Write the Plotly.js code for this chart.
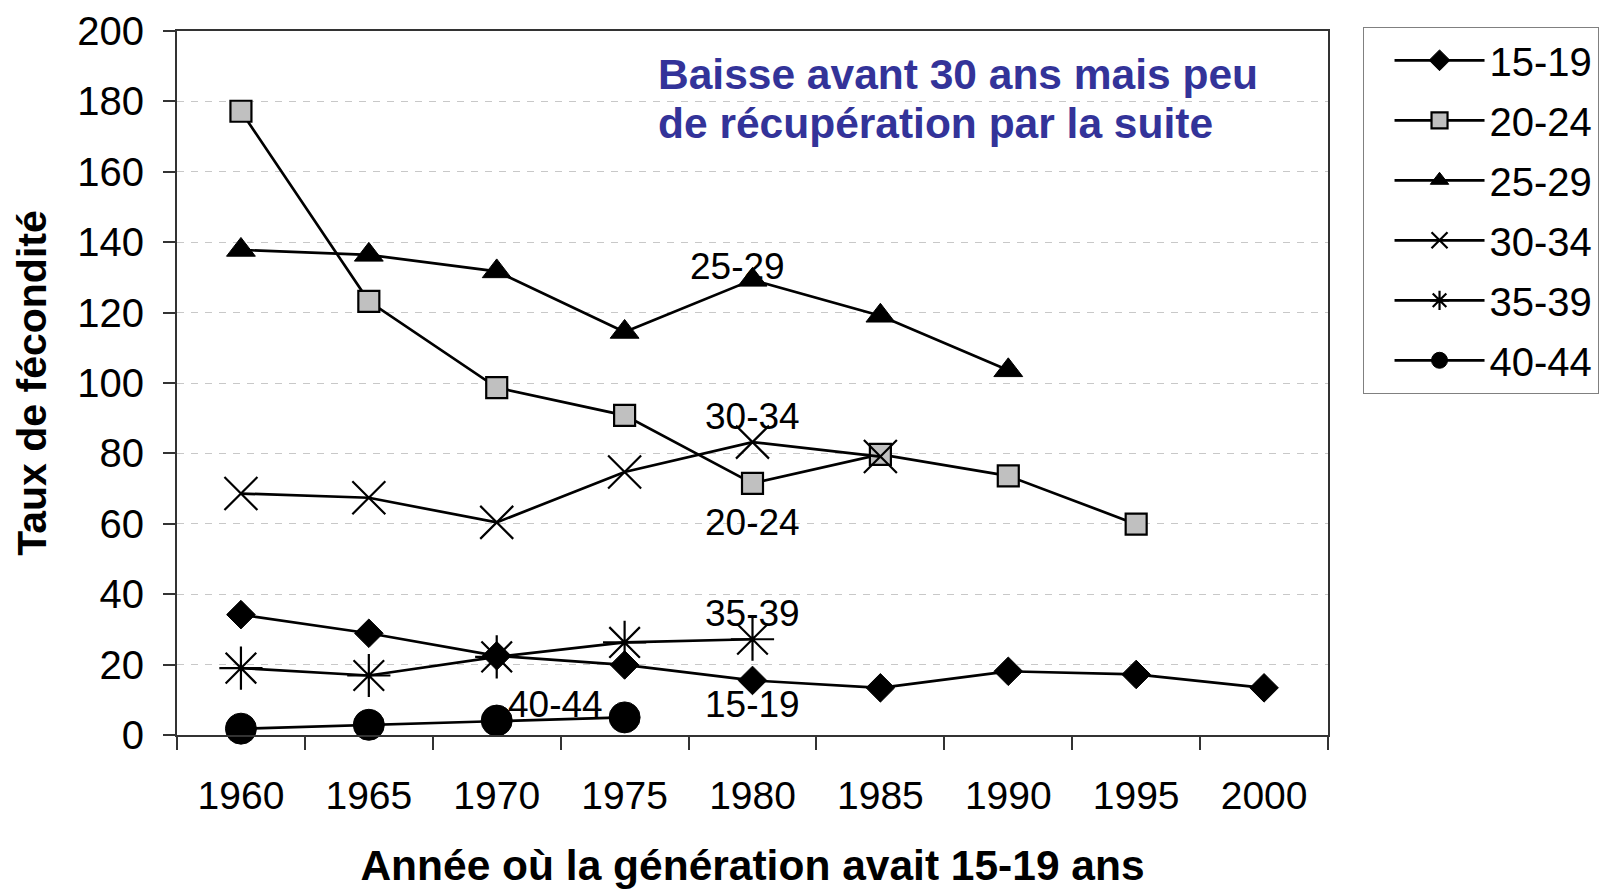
<!DOCTYPE html>
<html>
<head>
<meta charset="utf-8">
<script src="https://cdn.plot.ly/plotly-3.0.1.min.js"></script>
<style>html,body{margin:0;padding:0;background:#fff;}#chart{width:1612px;height:889px;}</style>
</head>
<body>
<div id="chart"></div>
<script>
const years = ["1960","1965","1970","1975","1980","1985","1990","1995","2000"];
const seriesNames = ["15-19","20-24","25-29","30-34","35-39","40-44"];
const v15_19 = [34.2, 28.9, 22.5, 19.9, 15.5, 13.4, 18.1, 17.2, 13.4];
const v20_24 = [177.2, 123.2, 98.7, 90.8, 71.5, 79.7, 73.6, 59.9];
const v25_29 = [137.8, 136.4, 131.7, 114.5, 129.3, 119.1, 103.6];
const v30_34 = [68.6, 67.4, 60.4, 74.7, 83.2, 79.1];
const v35_39 = [19.0, 16.9, 22.2, 26.3, 27.2];
const v40_44 = [1.8, 2.9, 4.1, 5.0];
const yTicks = [0,20,40,60,80,100,120,140,160,180,200];
const titleLines = ["Baisse avant 30 ans mais peu", "de récupération par la suite"];

const FONT = "Liberation Sans, Arial, sans-serif";
const markers = [
  {symbol:"diamond", size:22, color:"#000", line:{color:"#000", width:1}},
  {symbol:"square", size:21, color:"#c0c0c0", line:{color:"#000", width:2.2}},
  {symbol:"triangle-up", size:25, color:"#000", line:{color:"#000", width:1}},
  {symbol:"x-thin-open", size:33, color:"#000", line:{color:"#000", width:2.2}},
  {symbol:"asterisk-open", size:36, color:"#000", line:{color:"#000", width:2.2}},
  {symbol:"circle", size:31, color:"#000", line:{color:"#000", width:1}}
];
const values = [v15_19, v20_24, v25_29, v30_34, v35_39, v40_44];

const traces = values.map((vals, i) => ({
  type: "scatter",
  mode: "lines+markers",
  name: seriesNames[i],
  legendgroup: "g" + i,
  x: years.slice(0, vals.length),
  y: vals,
  line: {color: "#000", width: 2.7},
  marker: markers[i],
  cliponaxis: false
}));

const labelFont = {family: FONT, size: 37, color: "#000"};
const annotations = [
  {x: 3.88, y: 133.2, text: "25-29"},
  {x: 4.0, y: 90.6, text: "30-34"},
  {x: 4.0, y: 60.5, text: "20-24"},
  {x: 4.0, y: 34.4, text: "35-39"},
  {x: 4.0, y: 8.8, text: "15-19"},
  {x: 2.46, y: 8.8, text: "40-44"}
].map(a => Object.assign({xref: "x", yref: "y", showarrow: false, font: labelFont, xanchor: "center", yanchor: "middle"}, a));

titleLines.forEach((t, i) => {
  annotations.push({
    xref: "paper", yref: "paper", x: 0.416, y: [0.938, 0.868][i], xanchor: "left", yanchor: "middle",
    align: "left", showarrow: false,
    text: "<b>" + t + "</b>",
    font: {family: FONT, size: 42.5, color: "#333399"}
  });
});

const layout = {
  width: 1612, height: 889,
  paper_bgcolor: "#fff", plot_bgcolor: "#fff",
  margin: {l: 177, r: 284, t: 31, b: 154},
  font: {family: FONT, color: "#000"},
  showlegend: true,
  legend: {
    x: 1.03, y: 1.006, xanchor: "left", yanchor: "top",
    bordercolor: "#808080", borderwidth: 1, bgcolor: "#fff",
    font: {family: FONT, size: 40, color: "#000"},
    traceorder: "grouped", tracegroupgap: 5,
    itemwidth: 90, indentation: 26
  },
  xaxis: {
    type: "category", categoryorder: "array", categoryarray: years,
    range: [-0.5, 8.5], tickson: "boundaries",
    ticks: "outside", ticklen: 13, tickwidth: 2, tickcolor: "#333",
    showline: true, linecolor: "#333", linewidth: 2, mirror: true,
    showgrid: false, zeroline: false,
    tickfont: {family: FONT, size: 39, color: "#000"},
    ticklabelstandoff: 25,
    title: {text: "<b>Année où la génération avait 15-19 ans</b>", font: {family: FONT, size: 42.5, color: "#000"}, standoff: 47},
    automargin: false, fixedrange: true
  },
  yaxis: {
    range: [0, 200], tickvals: yTicks, ticktext: yTicks.map(String),
    ticks: "outside", ticklen: 12, tickwidth: 2, tickcolor: "#333",
    showline: true, linecolor: "#333", linewidth: 2, mirror: true,
    showgrid: true, gridcolor: "#c8c8c8", gridwidth: 1, griddash: "7px,7px",
    zeroline: false,
    tickfont: {family: FONT, size: 40, color: "#000"},
    ticklabelstandoff: 11,
    title: {text: "<b>Taux de fécondité</b>", font: {family: FONT, size: 41, color: "#000"}, standoff: 18},
    automargin: false, fixedrange: true
  },
  annotations: annotations
};

Plotly.newPlot("chart", traces, layout, {displayModeBar: false, staticPlot: true});
</script>
</body>
</html>
